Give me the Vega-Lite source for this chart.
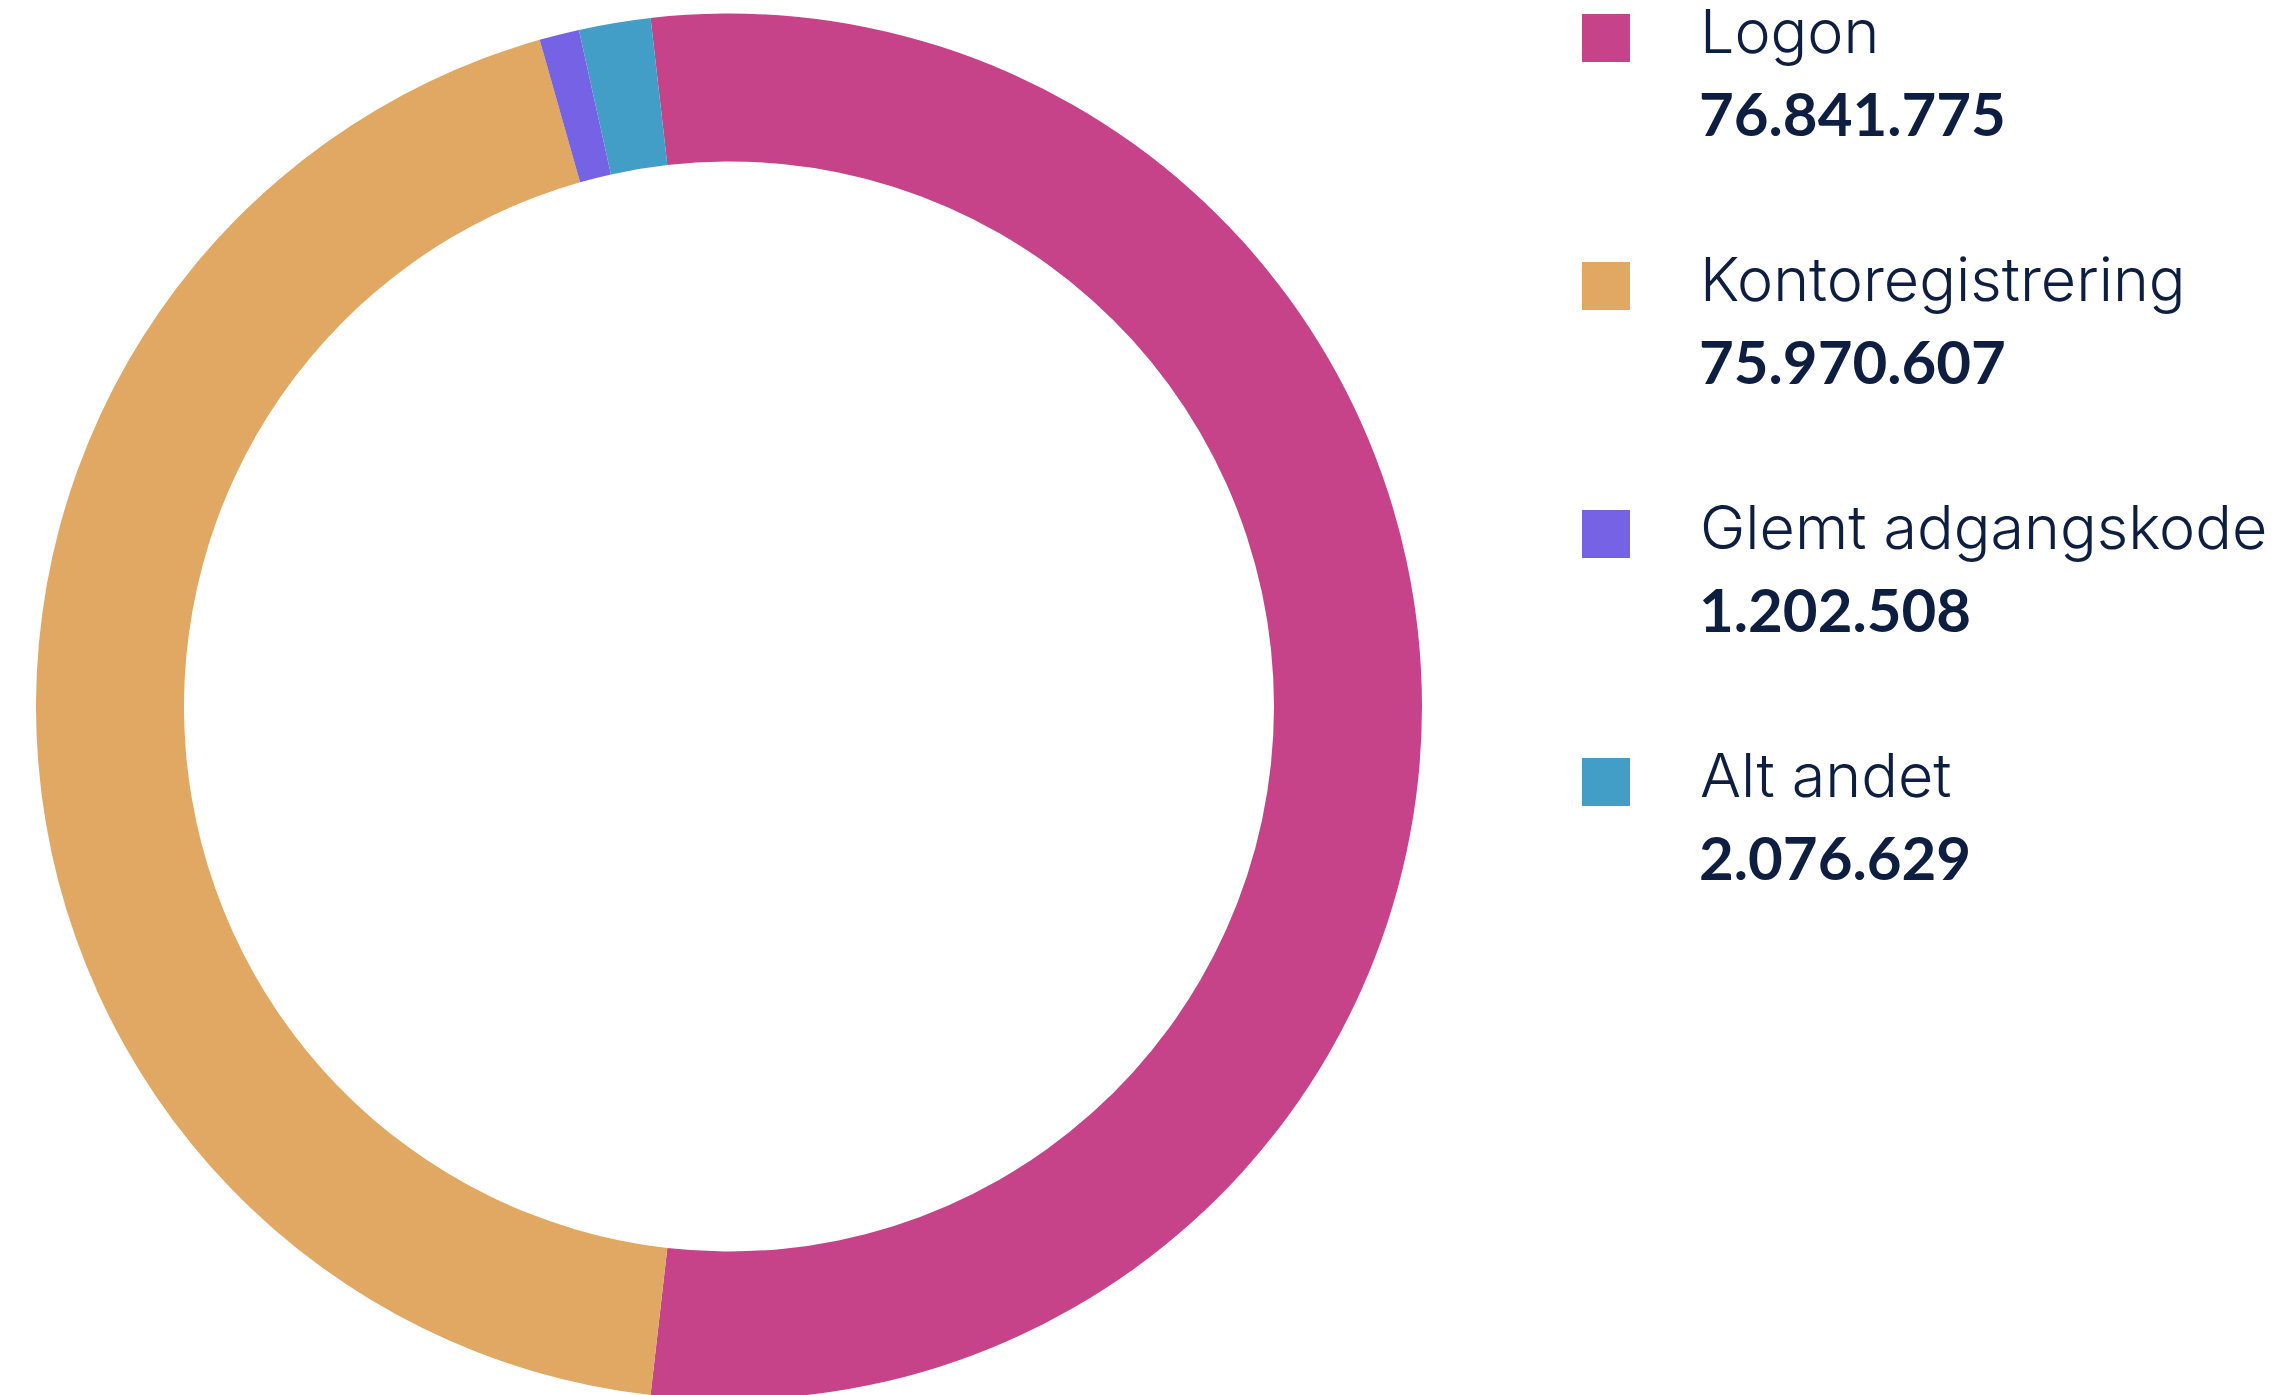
{
  "$schema": "https://vega.github.io/schema/vega-lite/v6.json",
  "padding": 0,
  "spacing": 0,
  "background": "white",
  "config": {
    "view": {"stroke": null},
    "locale": {"number": {"decimal": ",", "thousands": ".", "grouping": [3], "currency": ["", " kr"]}}
  },
  "data": {
    "values": [
      {"name": "Logon", "value": 76841775, "share": 53.61, "rank": 0},
      {"name": "Kontoregistrering", "value": 75970607, "share": 43.79, "rank": 1},
      {"name": "Glemt adgangskode", "value": 1202508, "share": 0.93, "rank": 2},
      {"name": "Alt andet", "value": 2076629, "share": 1.67, "rank": 3}
    ]
  },
  "hconcat": [
    {
      "width": 1458,
      "height": 1413,
      "mark": {"type": "arc", "outerRadius": 693, "innerRadius": 545},
      "encoding": {
        "theta": {"field": "share", "type": "quantitative", "stack": true, "scale": {"range": [-0.1134, 6.1698]}},
        "order": {"field": "rank", "type": "quantitative", "sort": "ascending"},
        "color": {
          "field": "name", "type": "nominal", "legend": null,
          "scale": {
            "domain": ["Logon", "Kontoregistrering", "Glemt adgangskode", "Alt andet"],
            "range": ["#C64389", "#E0A862", "#7662E4", "#429EC7"]
          }
        }
      }
    },
    {
      "width": 296,
      "height": 1413,
      "encoding": {
        "y": {"field": "rank", "type": "quantitative", "axis": null, "scale": {"domain": [-0.1532, 5.5444], "reverse": true, "nice": false, "zero": false}}
      },
      "layer": [
        {
          "mark": {"type": "point", "shape": "square", "filled": true, "size": 2304, "opacity": 1},
          "encoding": {
            "color": {
              "field": "name", "type": "nominal", "legend": null,
              "scale": {
                "domain": ["Logon", "Kontoregistrering", "Glemt adgangskode", "Alt andet"],
                "range": ["#C64389", "#E0A862", "#7662E4", "#429EC7"]
              }
            }
          }
        },
        {
          "mark": {"type": "text", "align": "left", "baseline": "alphabetic", "dx": 94, "dy": 15, "font": "Inter", "fontSize": 61, "fontWeight": 300, "color": "#0E1E40"},
          "encoding": {"text": {"field": "name", "type": "nominal"}}
        },
        {
          "mark": {"type": "text", "align": "left", "baseline": "alphabetic", "dx": 93, "dy": 98, "font": "Lato", "fontSize": 60, "fontWeight": "bold", "color": "#0E1E40"},
          "encoding": {"text": {"field": "value", "type": "quantitative", "format": ",d"}}
        }
      ]
    }
  ]
}
